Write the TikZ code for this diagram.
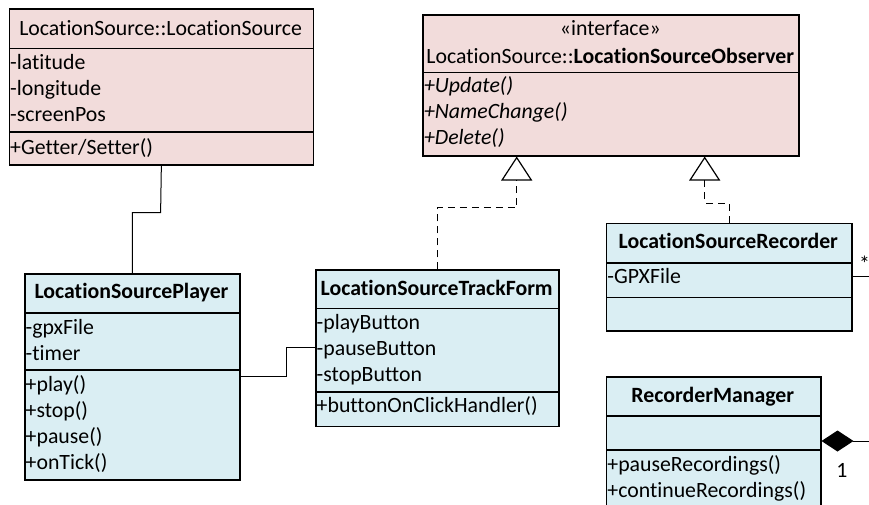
\documentclass[tikz,border=0pt]{standalone}
\usepackage{fontspec}
\setmainfont{Carlito}[Ligatures=NoCommon]
\usetikzlibrary{arrows.meta}

\definecolor{clspink}{HTML}{F2DCDB}
\definecolor{clsblue}{HTML}{DAEEF3}

\tikzset{
  compart/.style={draw=black, line width=1.5pt, rectangle, inner sep=0pt, anchor=north west},
  pinkpart/.style={compart, fill=clspink},
  bluepart/.style={compart, fill=clsblue},
  member/.style={inner sep=0pt, anchor=base west, font=\fontsize{21.8}{26}\selectfont},
  title/.style={inner sep=0pt, anchor=base, font=\fontsize{21.8}{26}\selectfont},
  assoc/.style={draw=black, line width=1pt},
  realize/.style={draw=black, line width=1pt, dash pattern=on 7pt off 5pt,
    -{Triangle[length=24pt, width=31pt, fill=white, line width=1.2pt]}},
  compose/.style={draw=black, line width=1pt, {Diamond[length=32pt, width=21pt]}-},
  mult/.style={inner sep=0pt, font=\fontsize{21.8}{26}\selectfont},
}

% compartment: name, left, top, width, height, style
\newcommand\compart[6]{%
  \node[#6, minimum width=#4pt, minimum height=#5pt] (#1) at (#2,#3) {};}
% member rows: prefix, x, first baseline, list
\newcommand\memberrows[4]{%
  \foreach \t [count=\i] in {#4}{%
    \node[member] (#1\i) at (#2, #3+26*\i-26) {\t};}}

\begin{document}
\begin{tikzpicture}[x=1pt, y=-1pt]
\useasboundingbox (0,0) rectangle (869,504);

% LocationSource::LocationSource
\compart{ls-h}{8.5}{8.3}{304.2}{39.4}{pinkpart}
\compart{ls-a}{8.5}{47.7}{304.2}{83.3}{pinkpart}
\compart{ls-m}{8.5}{131}{304.2}{33.3}{pinkpart}
\node[title] (ls-t) at (160.6,35.7) {LocationSource::LocationSource};
\memberrows{ls-ar}{10}{69}{-latitude,-longitude,-screenPos}
\memberrows{ls-mr}{10}{154}{+Getter/Setter()}

% LocationSource::LocationSourceObserver
\compart{if-h}{422.3}{14.3}{376}{57.4}{pinkpart}
\compart{if-m}{422.3}{71.7}{376}{83.3}{pinkpart}
\node[title] (if-s) at (610.3,35) {«interface»};
\node[title] (if-t) at (610.3,63.3) {LocationSource::\textbf{LocationSourceObserver}};
\memberrows{if-mr}{423.8}{92.7}{\textit{+Update()},\textit{+NameChange()},\textit{+Delete()}}

% LocationSourcePlayer
\compart{pl-h}{24}{273.3}{215}{39}{bluepart}
\compart{pl-a}{24}{312.3}{215}{57}{bluepart}
\compart{pl-m}{24}{369.3}{215}{110}{bluepart}
\node[title] (pl-t) at (131.5,298.3) {\textbf{LocationSourcePlayer}};
\memberrows{pl-ar}{25.5}{334}{-gpxFile,-timer}
\memberrows{pl-mr}{25.5}{391}{+play(),+stop(),+pause(),+onTick()}

% LocationSourceTrackForm
\compart{tf-h}{315}{269.3}{243.3}{38.4}{bluepart}
\compart{tf-a}{315}{307.7}{243.3}{83.3}{bluepart}
\compart{tf-m}{315}{391}{243.3}{34.7}{bluepart}
\node[title] (tf-t) at (436.7,295) {\textbf{LocationSourceTrackForm}};
\memberrows{tf-ar}{316.5}{329}{-playButton,-pauseButton,-stopButton}
\memberrows{tf-mr}{316.5}{412.3}{+buttonOnClickHandler()}

% LocationSourceRecorder
\compart{rc-h}{605.7}{222.7}{245.3}{39.6}{bluepart}
\compart{rc-a}{605.7}{262.3}{245.3}{34.4}{bluepart}
\compart{rc-m}{605.7}{296.7}{245.3}{33.3}{bluepart}
\node[title] (rc-t) at (728.3,248.3) {\textbf{LocationSourceRecorder}};
\memberrows{rc-ar}{607.2}{283.3}{-GPXFile}

% RecorderManager (runs on below the lower edge)
\compart{rm-h}{605.7}{376}{214.3}{39}{bluepart}
\compart{rm-a}{605.7}{415}{214.3}{34}{bluepart}
\compart{rm-m}{605.7}{449}{214.3}{90}{bluepart}
\node[title] (rm-t) at (712.8,402.3) {\textbf{RecorderManager}};
\memberrows{rm-mr}{607.2}{471}{+pauseRecordings(),+continueRecordings()}

% bend points of the connectors
\coordinate (lsJog) at (160.6,212.7);
\coordinate (tfJog) at (516.7,207.7);
\coordinate (rcJog) at (704.7,203);
\coordinate (ptA) at (286.7,376);
\coordinate (ptB) at (286.7,347.3);
\coordinate (rcOut) at (869,276);
\coordinate (rmOut) at (869,441);

% associations
\draw[assoc] (ls-m.south) -- (lsJog) -| (pl-h.north);
\draw[assoc] (ptA -| pl-m.east) -- (ptA) -- (ptB) -- (ptB -| tf-a.west);
\draw[assoc] (rcOut -| rc-a.east) -- (rcOut);
\node[mult] (rc-star) at (864.5,264) {*};

% realizations of the interface
\draw[realize] (tf-h.north) |- (tfJog) -- (tfJog |- if-m.south);
\draw[realize] (rc-h.north) |- (rcJog) -- (rcJog |- if-m.south);

% composition
\draw[compose] (rmOut -| rm-a.east) -- (rmOut);
\node[mult] (rm-one) at (842,470) {1};
\end{tikzpicture}
\end{document}
